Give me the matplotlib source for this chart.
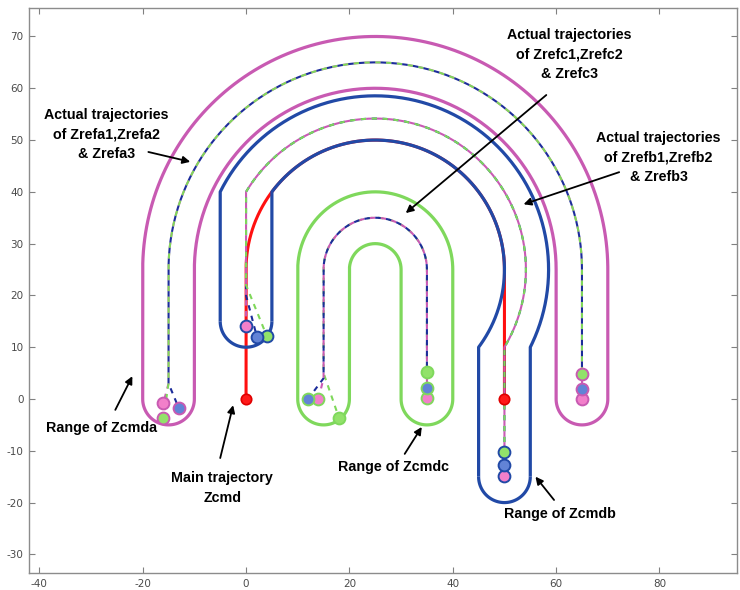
import numpy as np
import matplotlib
matplotlib.use("Agg")
import matplotlib.pyplot as plt

plt.rcParams["axes.unicode_minus"] = False

# every bend in the plot is an arc about this point
centre = (25, 25)

# main trajectory Zcmd: leg x positions, corner heights, end heights
zcmd_legs = [0, 50]
zcmd_tops = [25, 25]
zcmd_ends = [0, 0]

# ranges: leg centres, corner heights and bottom cap centres (left, right)
range_half_width = 5
range_a_legs = [-15, 65]
range_a_tops = [25, 25]
range_a_caps = [0, 0]
range_b_legs = [0, 50]
range_b_tops = [40, 10]
range_b_caps = [15, -15]
range_c_legs = [15, 35]
range_c_tops = [25, 25]
range_c_caps = [0, 0]

# actual trajectories, three per group, ordered magenta, green, blue
refa_start_y = [0.0, 4.8, 2.0]
refa_join_y = [3.0, 3.0, 3.0]
refa_end_x = [-16.0, -16.0, -13.0]
refa_end_y = [-0.8, -3.7, -1.8]

refb_start_y = [-14.9, -10.2, -12.7]
refb_join_y = [20.0, 22.0, 20.0]
refb_end_x = [0.0, 4.0, 2.1]
refb_end_y = [14.1, 12.2, 12.0]

refc_start_y = [0.2, 5.2, 2.1]
refc_join_y = [4.0, 5.0, 4.0]
refc_end_x = [14.0, 18.0, 12.0]
refc_end_y = [0.0, -3.7, 0.0]

magenta = "#c85ab2"
navy = "#2149a6"
green = "#7fd85c"
dash_colors = ["#c95ab4", "#7fd85a", "#1c2c9a"]
face_colors = ["#f27fca", "#92e26a", "#6283d6"]

fig = plt.figure(figsize=(7.4, 5.9), dpi=100)
ax = fig.add_axes([29 / 740, 17 / 590, 708 / 740, 565 / 590])
ax.set_xlim(-42, 95)
ax.set_ylim(-33.6, 75.5)


def bend(x0, x1, y0, y1, n=240):
    # arc about centre from (x0, y0) over the top to (x1, y1)
    cx, cy = centre
    r = np.hypot(x0 - cx, y0 - cy)
    t = np.linspace(np.arctan2(y0 - cy, x0 - cx), np.arctan2(y1 - cy, x1 - cx), n)
    return list(cx + r * np.cos(t)), list(cy + r * np.sin(t))


def draw_range(legs, tops, caps, color):
    w = range_half_width
    xl, xr = legs
    for side in (-1, 1):
        x0, x1 = xl + side * w, xr - side * w
        bx, by = bend(x0, x1, tops[0], tops[1])
        ax.plot([x0] + bx + [x1], [caps[0]] + by + [caps[1]], color=color, lw=2.3,
                solid_capstyle="butt", zorder=2)
    t = np.linspace(np.pi, 2 * np.pi, 80)
    for xc, yc in zip(legs, caps):
        ax.plot(xc + w * np.cos(t), yc + w * np.sin(t), color=color, lw=2.3,
                solid_capstyle="butt", zorder=2)


def path_length_pts(xs, ys, k):
    pts = ax.transData.transform(np.column_stack([xs[:k + 1], ys[:k + 1]]))
    return np.hypot(*np.diff(pts, axis=0).T).sum() * 72 / fig.dpi


def draw_refs(legs, tops, start_y, join_y, end_x, end_y, edge, order, phases):
    lw, on, off = 1.5, 2.6, 2.6
    paths = []
    for i in range(3):
        bx, by = bend(legs[0], legs[1], tops[0], tops[1])
        xs = [end_x[i], legs[0]] + bx + [legs[1]]
        ys = [end_y[i], join_y[i]] + by + [start_y[i]]
        paths.append((xs, ys))
    for i, ph in zip(order, phases):
        xs, ys = paths[i]
        s = path_length_pts(xs, ys, 2) / lw
        offset = (ph - s) % (on + off)
        ax.plot(xs, ys, color=dash_colors[i], lw=lw, linestyle=(offset, (on, off)),
                zorder=4)
    for i in range(3):
        for x, y in [(end_x[i], end_y[i]), (legs[1], start_y[i])]:
            ax.plot(x, y, "o", ms=8.5, mfc=face_colors[i], mec=edge, mew=1.4, zorder=6)


draw_range(range_c_legs, range_c_tops, range_c_caps, green)
draw_range(range_a_legs, range_a_tops, range_a_caps, magenta)

# main trajectory in red, partly hidden under the Zcmdb range
zx, zy = bend(zcmd_legs[0], zcmd_legs[1], zcmd_tops[0], zcmd_tops[1])
ax.plot([zcmd_legs[0]] + zx + [zcmd_legs[1]], [zcmd_ends[0]] + zy + [zcmd_ends[1]],
        color="#ff1010", lw=2.2, zorder=1.5)

draw_range(range_b_legs, range_b_tops, range_b_caps, navy)

draw_refs(range_a_legs, range_a_tops, refa_start_y, refa_join_y, refa_end_x, refa_end_y,
          magenta, [0, 1, 2], [0.0, 0.0, 2.6])
draw_refs(range_b_legs, range_b_tops, refb_start_y, refb_join_y, refb_end_x, refb_end_y,
          navy, [2, 1, 0], [0.0, 0.0, 2.6])
draw_refs(range_c_legs, range_c_tops, refc_start_y, refc_join_y, refc_end_x, refc_end_y,
          green, [1, 0, 2], [1.3, 0.0, 2.6])

ax.plot(zcmd_legs, zcmd_ends, "o", ms=7.5, mfc="#ff1a1a", mec="#e00000", mew=1.2, zorder=6)

# labels with arrows
arrow = dict(arrowstyle="-|>", color="black", lw=1.3, mutation_scale=11,
             shrinkA=0, shrinkB=0)
font = dict(fontsize=10.3, fontweight="bold", family="Liberation Sans",
            ha="center", va="center", linespacing=1.5)
notes = [
    ("Actual trajectories\nof Zrefa1,Zrefa2\n& Zrefa3", (-27, 51), (-18.9, 47.7), (-10.8, 45.8)),
    ("Actual trajectories\nof Zrefc1,Zrefc2\n& Zrefc3", (62.5, 66.6), (58.1, 58.7), (30.9, 35.9)),
    ("Actual trajectories\nof Zrefb1,Zrefb2\n& Zrefb3", (79.8, 46.7), (72.2, 43.8), (53.7, 37.6)),
    ("Range of Zcmda", (-27.9, -5.6), (-25.3, -2.1), (-22.0, 4.4)),
    ("Main trajectory\nZcmd", (-4.6, -17.2), (-5.0, -11.4), (-2.5, -1.2)),
    ("Range of Zcmdc", (28.6, -13.1), (30.7, -10.6), (34.0, -5.4)),
    ("Range of Zcmdb", (60.8, -22.2), (59.6, -19.5), (56.0, -15.0)),
]
for text, pos, tail, head in notes:
    ax.text(pos[0], pos[1], text, zorder=7, **font)
    ax.annotate("", xy=head, xytext=tail, arrowprops=arrow, zorder=7)

ax.set_xticks(np.arange(-40, 81, 20))
ax.set_yticks(np.arange(-30, 71, 10))
ax.tick_params(direction="in", top=True, right=True, length=4, width=0.8,
               colors="#808080", labelcolor="#4a4a4a", labelsize=7.5, pad=4)
for sp in ax.spines.values():
    sp.set_color("#8c8c8c")
    sp.set_linewidth(1.0)

fig.savefig("out.png", dpi=100)
